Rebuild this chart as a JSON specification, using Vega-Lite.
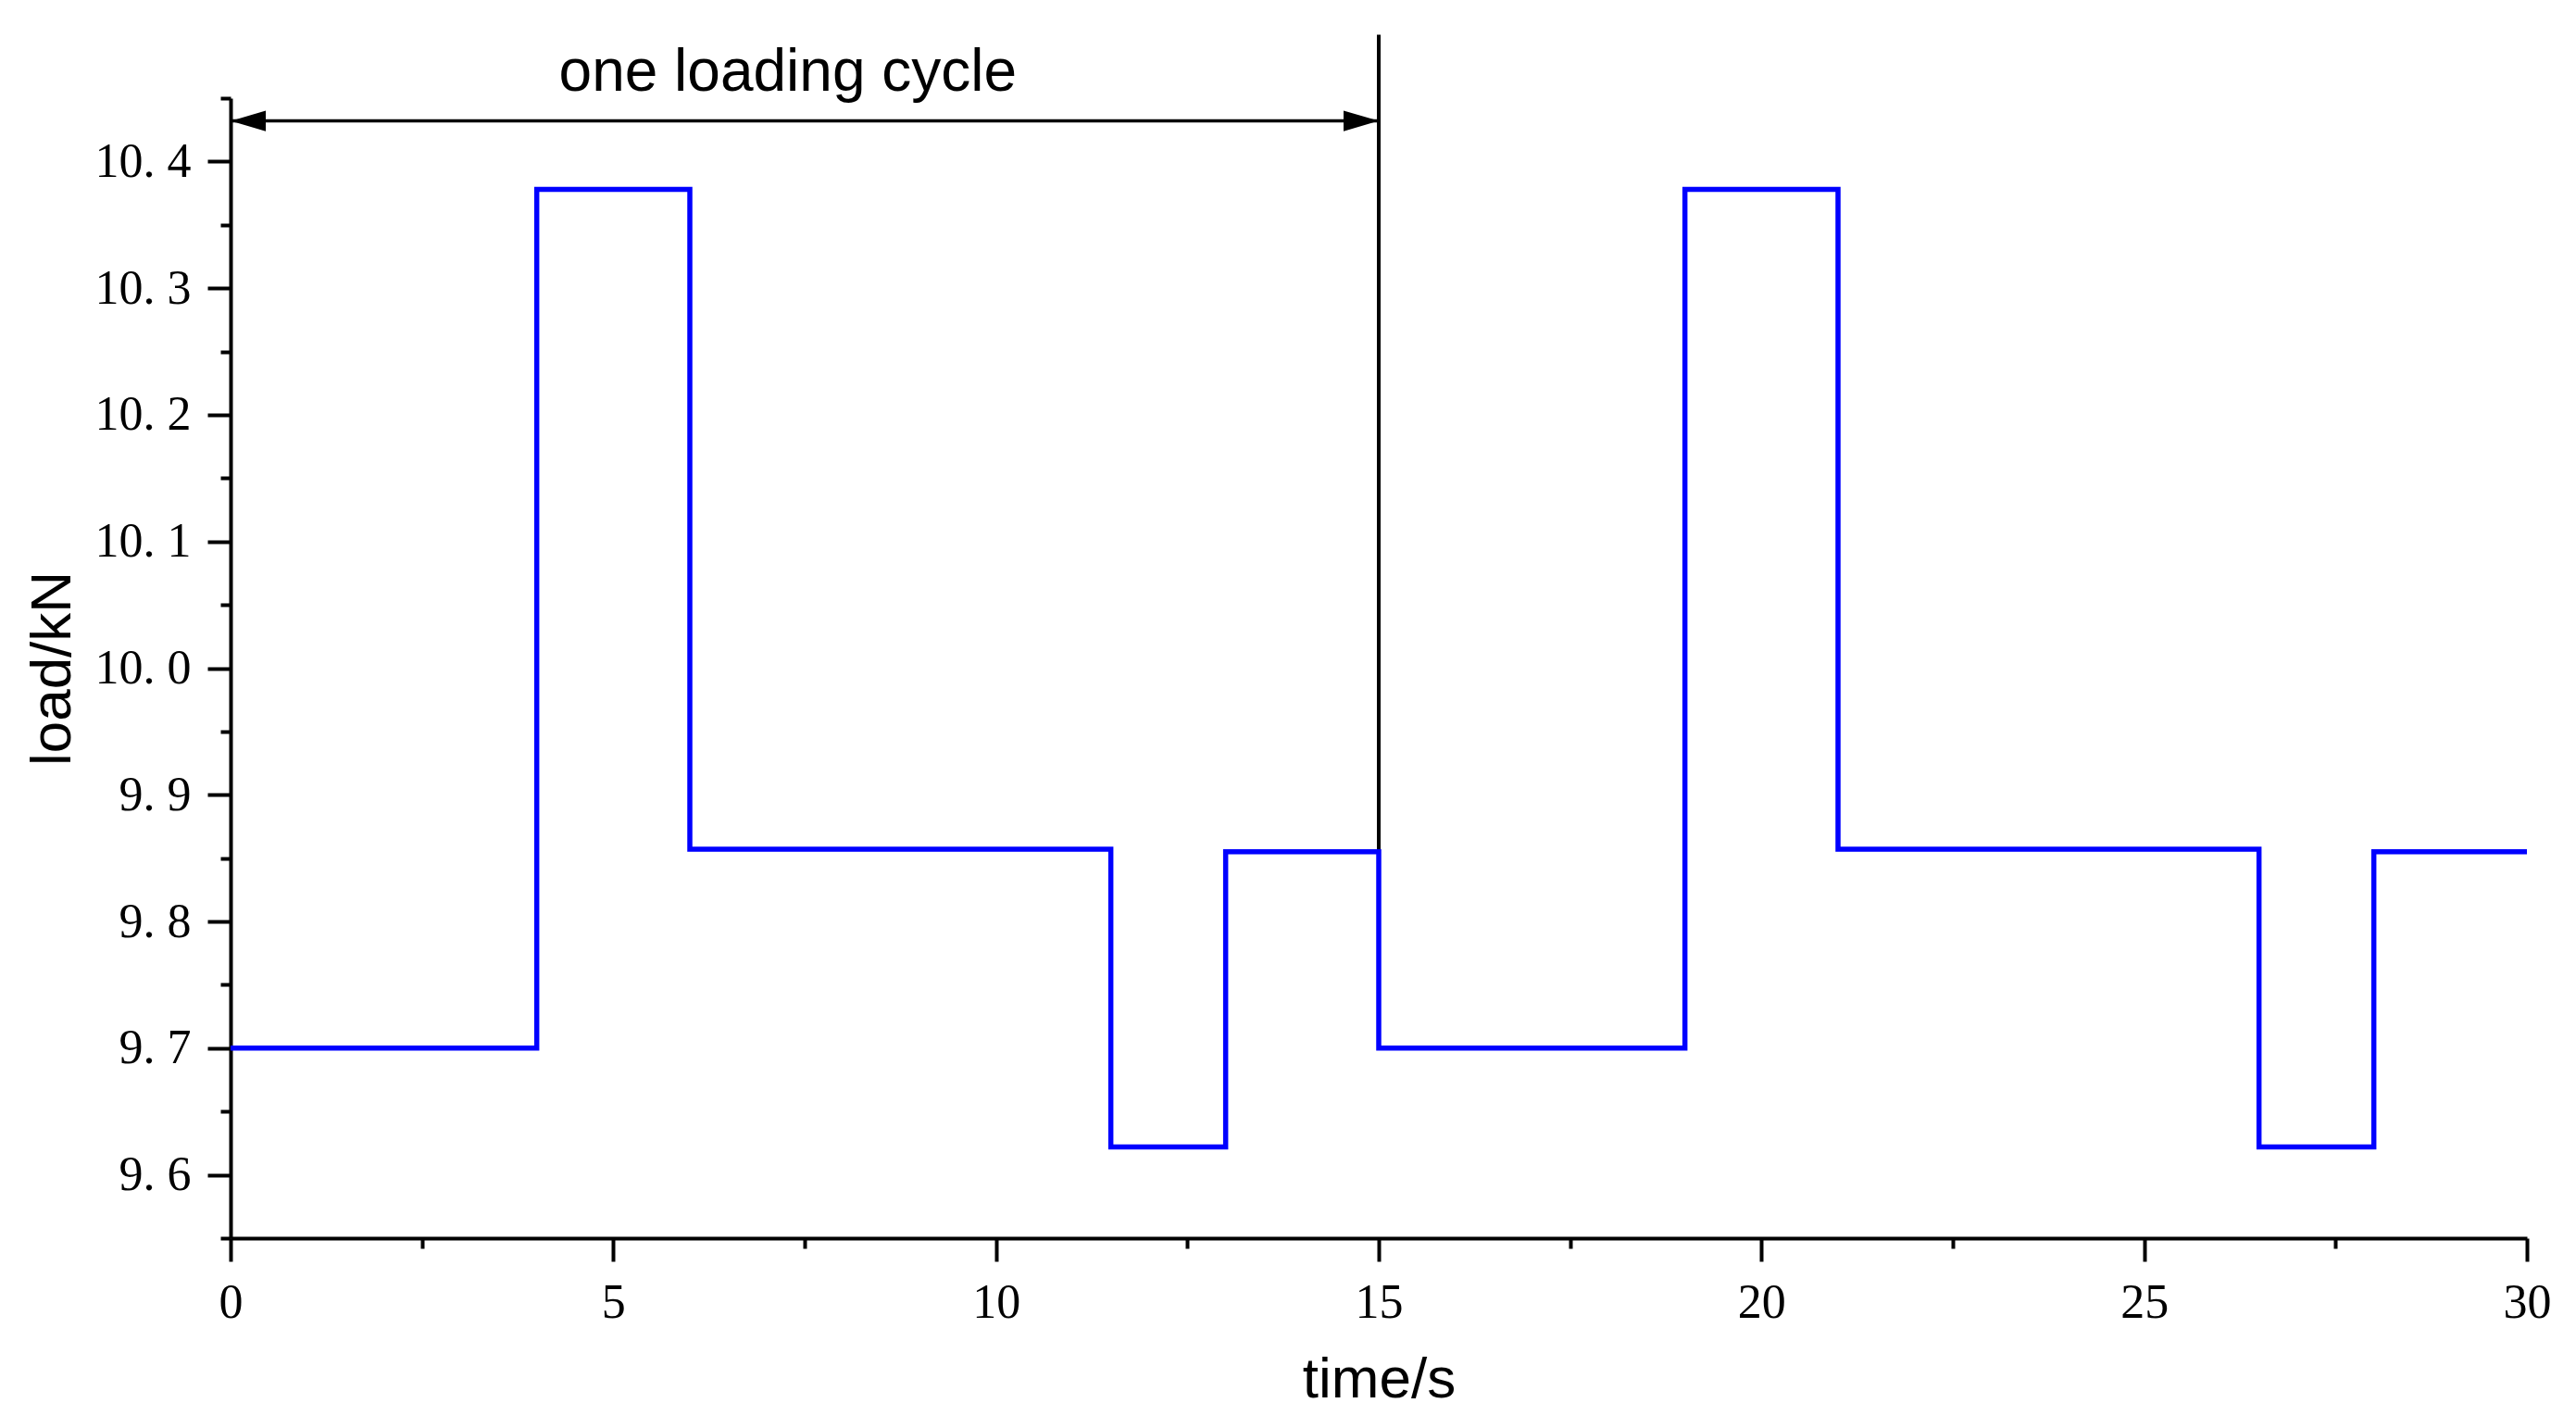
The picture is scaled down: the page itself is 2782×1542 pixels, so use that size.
{
  "$schema": "https://vega.github.io/schema/vega-lite/v6.json",
  "autosize": "none",
  "width": 2480,
  "height": 1231,
  "padding": {"left": 249, "top": 106, "right": 53, "bottom": 205},
  "background": "white",
  "config": {
    "view": {"stroke": null},
    "axis": {
      "grid": false,
      "domainColor": "black",
      "domainWidth": 4,
      "tickColor": "black",
      "tickWidth": 4,
      "labelColor": "black",
      "labelFont": "Liberation Serif",
      "labelFontSize": 52,
      "titleFont": "Liberation Sans",
      "titleFontSize": 62,
      "titleFontWeight": "normal",
      "titleColor": "black"
    }
  },
  "layer": [
    {
      "data": {"values": [
        {"time": 0, "load": 9.7},
        {"time": 4, "load": 10.378},
        {"time": 6, "load": 9.857},
        {"time": 11.5, "load": 9.622},
        {"time": 13, "load": 9.855},
        {"time": 15, "load": 9.7},
        {"time": 19, "load": 10.378},
        {"time": 21, "load": 9.857},
        {"time": 26.5, "load": 9.622},
        {"time": 28, "load": 9.855},
        {"time": 30, "load": 9.855}
      ]},
      "mark": {"type": "line", "interpolate": "step-after", "color": "#0000FF", "strokeWidth": 5.5, "strokeJoin": "miter", "strokeCap": "butt"},
      "encoding": {
        "x": {
          "field": "time", "type": "quantitative",
          "scale": {"domain": [0, 30], "nice": false, "zero": false},
          "axis": {
            "title": "time/s",
            "values": [0, 2.5, 5, 7.5, 10, 12.5, 15, 17.5, 20, 22.5, 25, 27.5, 30],
            "labelExpr": "datum.value % 5 === 0 ? format(datum.value, 'd') : ''",
            "tickSize": {"condition": {"test": "datum.value % 5 === 0", "value": 25}, "value": 11},
            "labelPadding": 19,
            "labelFlush": false,
            "labelOverlap": false,
            "titleY": 171,
            "titleBaseline": "alphabetic"
          }
        },
        "y": {
          "field": "load", "type": "quantitative",
          "scale": {"domain": [9.55, 10.45], "nice": false, "zero": false},
          "axis": {
            "title": "load/kN",
            "values": [9.55, 9.6, 9.65, 9.7, 9.75, 9.8, 9.85, 9.9, 9.95, 10.0, 10.05, 10.1, 10.15, 10.2, 10.25, 10.3, 10.35, 10.4, 10.45],
            "labelExpr": "abs(datum.value*10 - round(datum.value*10)) < 0.01 ? replace(format(datum.value, '.1f'), '.', '. ') : ''",
            "tickSize": {"condition": {"test": "abs(datum.value*10 - round(datum.value*10)) < 0.01", "value": 25}, "value": 11},
            "labelPadding": 18,
            "labelFlush": false,
            "labelOverlap": false,
            "titleX": -174,
            "titleBaseline": "alphabetic"
          }
        }
      }
    },
    {
      "data": {"values": [{"time": 15, "low": 9.857, "high": 10.5}]},
      "mark": {"type": "rule", "color": "black", "strokeWidth": 4},
      "encoding": {
        "x": {"field": "time", "type": "quantitative"},
        "y": {"field": "low", "type": "quantitative"},
        "y2": {"field": "high"}
      }
    },
    {
      "data": {"values": [{"start": 0, "end": 15, "load": 10.432}]},
      "mark": {"type": "rule", "color": "black", "strokeWidth": 3.5},
      "encoding": {
        "x": {"field": "start", "type": "quantitative"},
        "x2": {"field": "end"},
        "y": {"field": "load", "type": "quantitative"}
      }
    },
    {
      "data": {"values": [{"time": 0, "load": 10.432}]},
      "mark": {"type": "point", "shape": "M0,0L1,-0.29L1,0.29Z", "size": 5776, "filled": true, "color": "black", "opacity": 1},
      "encoding": {
        "x": {"field": "time", "type": "quantitative"},
        "y": {"field": "load", "type": "quantitative"}
      }
    },
    {
      "data": {"values": [{"time": 15, "load": 10.432}]},
      "mark": {"type": "point", "shape": "M0,0L-1,-0.29L-1,0.29Z", "size": 5776, "filled": true, "color": "black", "opacity": 1},
      "encoding": {
        "x": {"field": "time", "type": "quantitative"},
        "y": {"field": "load", "type": "quantitative"}
      }
    },
    {
      "data": {"values": [{"time": 7.28, "load": 10.456, "label": "one loading cycle"}]},
      "mark": {"type": "text", "font": "Liberation Sans", "fontSize": 64, "color": "black", "align": "center", "baseline": "alphabetic"},
      "encoding": {
        "x": {"field": "time", "type": "quantitative"},
        "y": {"field": "load", "type": "quantitative"},
        "text": {"field": "label"}
      }
    }
  ]
}
